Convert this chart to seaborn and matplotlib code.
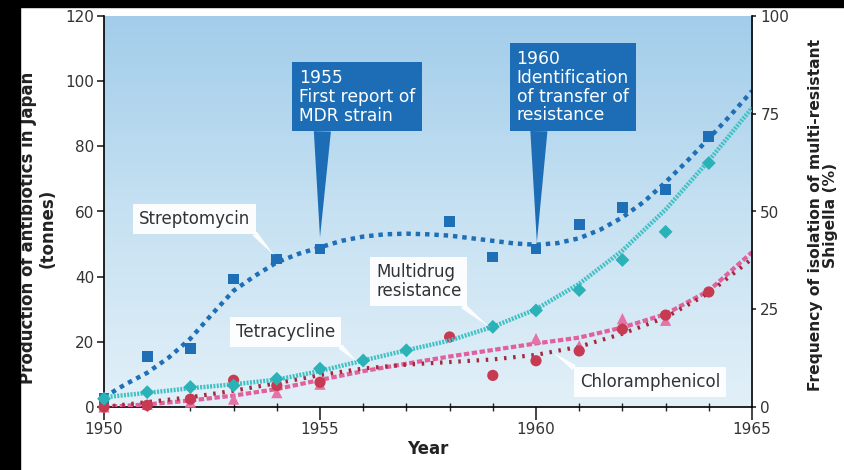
import numpy as np
import matplotlib
matplotlib.use("Agg")
import matplotlib.pyplot as plt
import seaborn as sns
from matplotlib.colors import LinearSegmentedColormap
from matplotlib.patches import Rectangle

nan = np.nan

# observed yearly values (points)
years = [1950, 1951, 1952, 1953, 1954, 1955, 1956, 1957, 1958, 1959, 1960, 1961, 1962, 1963, 1964]
strep_pts = [2.5, 15.5, 18, 39.3, 45.4, 48.5, nan, nan, 57, 46, 48.5, 56, 61.3, 66.7, 83]
mdr_pts = [2.1, 3.8, 5.1, 5.5, 7.2, 9.8, 11.9, 14.5, nan, 20.5, 24.7, 29.9, 37.6, 44.8, 62.4]
tetra_pts = [0, 0.8, 1.5, 2.4, 4.4, 7, nan, nan, nan, nan, 21, 18.8, 27.1, 26.6, nan]
chlor_pts = [0, 0.5, 2.4, 8.2, 6.6, 7.6, nan, nan, 21.5, 9.7, 14.2, 17.2, 23.9, 28.2, 35.3]

# trend curves
strep_trend_years = [1950, 1950.5, 1951, 1951.5, 1952, 1952.5, 1953, 1953.5, 1954, 1954.5,
                     1955, 1955.5, 1956, 1956.5, 1957, 1957.5, 1958, 1958.5, 1959, 1959.5,
                     1960, 1960.5, 1961, 1961.5, 1962, 1962.5, 1963, 1963.5, 1964, 1964.5, 1965]
strep_trend = [3, 7, 10.5, 15.2, 21, 28.5, 35.7, 40.3, 44.4, 47,
               49, 51, 52.3, 53, 53.2, 53, 52.6, 51.8, 51, 50.2,
               49.8, 50.3, 51.8, 54.5, 58.2, 63, 69, 75.5, 82.4, 89.5, 97]
trend_years = [1950, 1951, 1952, 1953, 1954, 1955, 1956, 1957, 1958, 1959, 1960, 1961, 1962, 1963, 1964, 1965]
mdr_trend = [2.5, 3.6, 4.8, 5.8, 7, 9.2, 11.9, 14.5, 17, 20.5, 25, 31.5, 40, 50.5, 63, 76.5]
tetra_trend = [0, 0.8, 2, 3.5, 5.5, 8.3, 11, 13.3, 15.5, 17.5, 19.5, 21.3, 24.4, 28.5, 35.7, 47.5]
chlor_trend = [0, 1.5, 3, 5, 7.3, 9.8, 11.8, 13, 13.8, 14.6, 16, 18.5, 22.5, 27.5, 35, 45.5]

strep_color = "#1f6fb6"
mdr_color = "#3fc1c6"
mdr_marker = "#2ab2b6"
tetra_color = "#e0619c"
tetra_marker = "#e673a8"
chlor_color = "#a32a3c"
chlor_marker = "#c63a52"
callout_blue = "#1c6db5"
text_grey = "#333333"

sns.set_style("ticks")
plt.rcParams["font.family"] = ["DejaVu Sans"]

fig = plt.figure(figsize=(8.44, 4.70), dpi=100)
ax = fig.add_axes([104 / 844, 63 / 470, 648 / 844, 391 / 470])

# soft blue gradient background
cmap = LinearSegmentedColormap.from_list("bg", ["#a2cdea", "#c6e1f2", "#e2f0f8"])
ax.imshow(np.linspace(0, 1, 256).reshape(-1, 1), cmap=cmap, extent=(0, 1, 0, 1),
          transform=ax.transAxes, aspect="auto", zorder=0)

# left axis: tonnes
sns.lineplot(x=strep_trend_years, y=strep_trend, ax=ax, color=strep_color, lw=3.2,
             linestyle=(0, (1, 1.1)), zorder=3)
sns.lineplot(x=trend_years, y=tetra_trend, ax=ax, color=tetra_color, lw=3.0,
             linestyle=(0, (1.3, 0.6)), zorder=3)
sns.lineplot(x=trend_years, y=chlor_trend, ax=ax, color=chlor_color, lw=3.0,
             linestyle=(0, (0.6, 1.6)), zorder=3)
sns.scatterplot(x=years, y=strep_pts, ax=ax, marker="s", s=60, color=strep_color,
                edgecolor="none", zorder=4, clip_on=False)
sns.scatterplot(x=years, y=tetra_pts, ax=ax, marker="^", s=65, color=tetra_marker,
                edgecolor="none", zorder=4, clip_on=False)
sns.scatterplot(x=years, y=chlor_pts, ax=ax, marker="o", s=65, color=chlor_marker,
                edgecolor="none", zorder=4, clip_on=False)

ax.set_xlim(1950, 1965)
ax.set_ylim(0, 120)
ax.set_xticks([1950, 1955, 1960, 1965])
ax.set_xticks(range(1950, 1966), minor=True)
ax.set_yticks(range(0, 121, 20))
ax.tick_params(axis="x", which="major", direction="out", length=9, width=1.2,
               labelsize=11, labelcolor=text_grey, pad=2)
ax.tick_params(axis="x", which="minor", direction="inout", length=6, width=1)
ax.tick_params(axis="y", direction="out", length=5, width=1.2, labelsize=11,
               labelcolor=text_grey, pad=2)
ax.set_xlabel("Year", fontsize=12, fontweight="bold", color="#222222", labelpad=2)
ax.set_ylabel("")
for side in ["top", "right"]:
    ax.spines[side].set_visible(False)
for side in ["left", "bottom"]:
    ax.spines[side].set_linewidth(1.2)
    ax.spines[side].set_color("black")

# right axis: % multi-resistant Shigella
ax2 = ax.twinx()
sns.lineplot(x=trend_years, y=mdr_trend, ax=ax2, color=mdr_color, lw=3.2,
             linestyle=(0, (0.45, 0.3)), zorder=3)
sns.scatterplot(x=years, y=mdr_pts, ax=ax2, marker="D", s=50, color=mdr_marker,
                edgecolor="none", zorder=4, clip_on=False)
ax2.set_ylim(0, 100)
ax2.set_xlim(1950, 1965)
ax2.set_yticks([0, 25, 50, 75, 100])
ax2.tick_params(axis="y", direction="out", length=3, width=1.2, labelsize=11,
                labelcolor=text_grey, pad=3)
ax2.set_ylabel("")
ax2.spines["top"].set_visible(False)
ax2.spines["left"].set_visible(False)
ax2.spines["bottom"].set_visible(False)
ax2.spines["right"].set_linewidth(1.2)
ax2.spines["right"].set_color("black")

# callouts (positions in tonnes / year coordinates)
tr = ax.transData
callout_kw = dict(xycoords=tr, textcoords=tr, ha="left", va="top", color="white",
                  fontsize=12.3, linespacing=1.05, zorder=6)
ax2.annotate("1955\nFirst report of\nMDR strain", xy=(1955, 52), xytext=(1954.52, 103.7),
             bbox=dict(boxstyle="square,pad=0.4", fc=callout_blue, ec="none"),
             arrowprops=dict(arrowstyle="wedge,tail_width=1.0,shrink_factor=0.5",
                             fc=callout_blue, ec="none", relpos=(0.2, 0),
                             shrinkA=0, shrinkB=0),
             **callout_kw)
ax2.annotate("1960\nIdentification\nof transfer of\nresistance", xy=(1960.02, 50.5),
             xytext=(1959.55, 109.5),
             bbox=dict(boxstyle="square,pad=0.4", fc=callout_blue, ec="none"),
             arrowprops=dict(arrowstyle="wedge,tail_width=1.0,shrink_factor=0.5",
                             fc=callout_blue, ec="none", relpos=(0.2, 0),
                             shrinkA=0, shrinkB=0),
             **callout_kw)

label_box = dict(boxstyle="square,pad=0.35", fc="white", ec="none", alpha=0.92)


def series_label(text, tip, pos, relpos, ha="center"):
    ax2.annotate(text, xy=tip, xytext=pos, xycoords=tr, textcoords=tr, ha=ha, va="center",
                 fontsize=12, color=text_grey, linespacing=1.05, bbox=label_box, zorder=6,
                 arrowprops=dict(arrowstyle="wedge,tail_width=0.35,shrink_factor=0.5",
                                 fc="white", ec="none", alpha=0.92, relpos=relpos,
                                 shrinkA=0, shrinkB=0))


series_label("Streptomycin", (1953.94, 46.5), (1952.1, 57.8), (0.97, 0.15))
series_label("Tetracycline", (1955.86, 13.8), (1954.2, 23.1), (0.97, 0.1))
series_label("Multidrug\nresistance", (1958.94, 24.3), (1956.3, 38.5), (0.93, 0.0), ha="left")
series_label("Chloramphenicol", (1960.39, 16.8), (1962.64, 7.7), (0.02, 0.95))

# axis titles
fig.text(38 / 844, 1 - 228 / 470, "Production of antibiotics in Japan\n(tonnes)",
         rotation=90, ha="center", va="center", multialignment="center",
         fontsize=12, fontweight="bold", color="#222222", linespacing=1.1)
fig.text(823 / 844, 1 - 215 / 470, "Frequency of isolation of multi-resistant\nShigella (%)",
         rotation=90, ha="center", va="center", multialignment="center",
         fontsize=11.2, fontweight="bold", color="#222222", linespacing=1.05)

# dark frame strips of the source image
fig.add_artist(Rectangle((0, 0), 20 / 844, 1, transform=fig.transFigure,
                         color="black", zorder=10))
fig.add_artist(Rectangle((0, 1 - 7 / 470), 1, 7 / 470, transform=fig.transFigure,
                         color="black", zorder=10))

fig.savefig("out.png", dpi=100)
